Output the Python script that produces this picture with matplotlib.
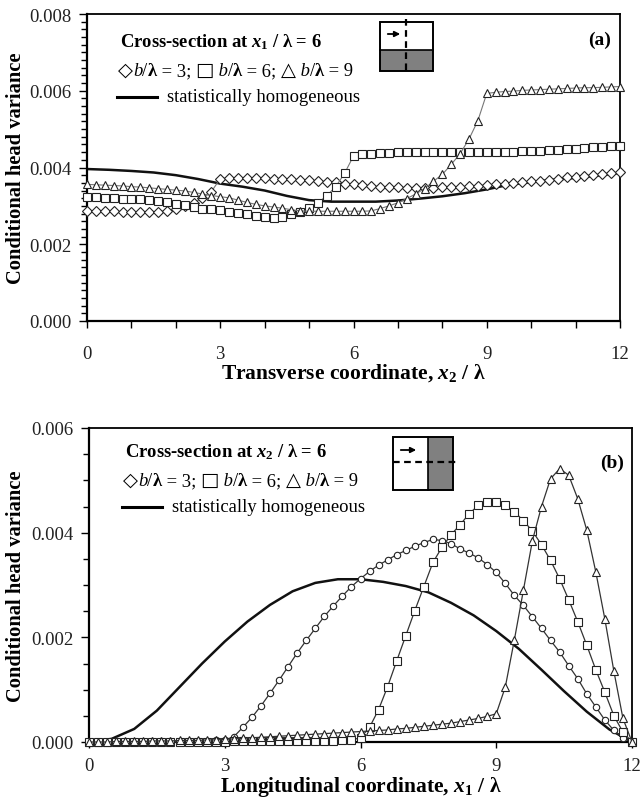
import numpy as np
import matplotlib
matplotlib.use("Agg")
import matplotlib.pyplot as plt
from matplotlib.ticker import MultipleLocator, FormatStrFormatter
from matplotlib.patches import Rectangle
from matplotlib.lines import Line2D

plt.rcParams['font.family'] = ['Liberation Serif', 'DejaVu Sans']
plt.rcParams['mathtext.fontset'] = 'custom'
plt.rcParams['mathtext.it'] = 'Liberation Serif:italic:bold'
plt.rcParams['mathtext.rm'] = 'Liberation Serif:bold'
plt.rcParams['mathtext.bf'] = 'Liberation Serif:bold'

# ---- data (head variance in units of 1e-3) ----
x_grid = np.round(np.linspace(0, 12, 61), 1)      # marker positions, step 0.2
x_line = np.round(np.linspace(0, 12, 25), 1)      # homogeneous curve, step 0.5

# (a) cross-section at x1/lambda = 6
a_b3 = [2.87, 2.87, 2.86, 2.86, 2.85, 2.84, 2.84, 2.84, 2.85, 2.87,
        2.91, 2.99, 3.08, 3.20, 3.37, 3.71, 3.73, 3.73, 3.73, 3.72,
        3.72, 3.71, 3.70, 3.69, 3.68, 3.67, 3.65, 3.63, 3.61, 3.58,
        3.56, 3.54, 3.52, 3.50, 3.49, 3.48, 3.47, 3.46, 3.46, 3.47,
        3.48, 3.49, 3.50, 3.51, 3.53, 3.54, 3.56, 3.58, 3.60, 3.62,
        3.64, 3.66, 3.68, 3.71, 3.74, 3.76, 3.79, 3.81, 3.84, 3.86,
        3.88]
a_b6 = [3.22, 3.22, 3.21, 3.20, 3.19, 3.18, 3.17, 3.15, 3.13, 3.10,
        3.06, 3.01, 2.96, 2.93, 2.91, 2.88, 2.85, 2.81, 2.78, 2.74,
        2.71, 2.69, 2.72, 2.78, 2.85, 2.95, 3.08, 3.27, 3.50, 3.85,
        4.30, 4.34, 4.36, 4.37, 4.39, 4.40, 4.41, 4.41, 4.41, 4.41,
        4.41, 4.41, 4.41, 4.41, 4.41, 4.41, 4.41, 4.41, 4.41, 4.42,
        4.43, 4.44, 4.45, 4.46, 4.48, 4.49, 4.51, 4.53, 4.54, 4.56,
        4.57]
a_b9 = [3.56, 3.55, 3.54, 3.53, 3.52, 3.50, 3.49, 3.47, 3.45, 3.43,
        3.41, 3.39, 3.35, 3.31, 3.27, 3.24, 3.21, 3.15, 3.09, 3.04,
        3.00, 2.97, 2.94, 2.90, 2.87, 2.86, 2.86, 2.86, 2.86, 2.86,
        2.86, 2.86, 2.87, 2.93, 3.00, 3.08, 3.19, 3.31, 3.45, 3.64,
        3.82, 4.08, 4.36, 4.74, 5.22, 5.93, 5.96, 5.98, 5.99, 6.01,
        6.02, 6.03, 6.04, 6.05, 6.06, 6.07, 6.08, 6.08, 6.09, 6.10,
        6.11]
a_hom = [3.96, 3.94, 3.91, 3.87, 3.80, 3.70, 3.58, 3.50, 3.40, 3.26,
         3.15, 3.11, 3.11, 3.11, 3.14, 3.19, 3.25, 3.33, 3.43, 3.55,
         3.62, 3.68, 3.73, 3.79, 3.86]

# (b) cross-section at x2/lambda = 6
b_b3 = [0.00, 0.00, 0.00, 0.00, 0.00, 0.00, 0.00, 0.01, 0.01, 0.01,
        0.01, 0.01, 0.02, 0.02, 0.03, 0.04, 0.10, 0.28, 0.47, 0.69,
        0.93, 1.18, 1.44, 1.70, 1.94, 2.17, 2.40, 2.60, 2.79, 2.97,
        3.12, 3.26, 3.38, 3.48, 3.58, 3.66, 3.74, 3.81, 3.87, 3.85,
        3.79, 3.69, 3.61, 3.52, 3.39, 3.24, 3.03, 2.80, 2.61, 2.39,
        2.17, 1.94, 1.72, 1.46, 1.21, 0.92, 0.67, 0.42, 0.22, 0.08,
        0.00]
b_b6 = [0.00, 0.00, 0.00, 0.00, 0.00, 0.00, 0.00, 0.00, 0.00, 0.00,
        0.00, 0.00, 0.00, 0.00, 0.00, 0.00, 0.01, 0.01, 0.01, 0.01,
        0.01, 0.01, 0.01, 0.01, 0.01, 0.02, 0.02, 0.02, 0.03, 0.04,
        0.08, 0.28, 0.62, 1.06, 1.55, 2.03, 2.51, 2.97, 3.43, 3.72,
        3.96, 4.15, 4.36, 4.52, 4.59, 4.59, 4.52, 4.40, 4.23, 4.03,
        3.77, 3.47, 3.12, 2.72, 2.30, 1.85, 1.38, 0.95, 0.50, 0.19,
        0.00]
b_b9 = [0.00, 0.00, 0.00, 0.01, 0.01, 0.01, 0.01, 0.02, 0.02, 0.02,
        0.03, 0.03, 0.03, 0.04, 0.04, 0.05, 0.06, 0.07, 0.08, 0.09,
        0.10, 0.11, 0.12, 0.13, 0.14, 0.15, 0.16, 0.17, 0.18, 0.19,
        0.20, 0.21, 0.22, 0.23, 0.25, 0.26, 0.28, 0.30, 0.32, 0.34,
        0.36, 0.39, 0.42, 0.45, 0.49, 0.54, 1.05, 1.95, 2.90, 3.85,
        4.50, 5.03, 5.22, 5.10, 4.65, 4.05, 3.25, 2.35, 1.35, 0.45,
        0.00]
b_hom = [0.00, 0.06, 0.25, 0.60, 1.05, 1.50, 1.92, 2.30, 2.62, 2.88,
         3.04, 3.11, 3.11, 3.06, 2.98, 2.86, 2.66, 2.42, 2.12, 1.78,
         1.38, 0.97, 0.58, 0.24, 0.00]

W, H = 641, 804
fig = plt.figure(figsize=(W / 100, H / 100), dpi=100)

LEG_FS = 13.4


def fx(x):
    return x / W


def fy(y):
    return 1 - y / H


def axes_px(x0, y0, x1, y1):
    return fig.add_axes([fx(x0), fy(y1), (x1 - x0) / W, (y1 - y0) / H])


def chain_text(ax, x, y, pieces, size):
    # pieces: list of (string, dict of text kwargs), drawn one after another
    s, kw = pieces[0]
    opts = dict(fontsize=size)
    opts.update(kw)
    t = ax.text(x, y, s, transform=fig.transFigure, va='bottom', ha='left', **opts)
    for s, kw in pieces[1:]:
        opts = dict(fontsize=size)
        opts.update(kw)
        t = ax.annotate(s, xy=(1, 0), xycoords=t, va='bottom', ha='left', **opts)
    return t


def legend_block(ax, x0, y0, title):
    ax.text(fx(x0), fy(y0), title, transform=fig.transFigure,
            fontsize=LEG_FS, fontweight='bold', va='center', ha='left')
    sym = dict(family=['DejaVu Sans'], fontsize=14)
    it = dict(style='italic')
    bf = dict(fontweight='bold')
    rg = {}
    pieces = [('\u25c7', sym), ('b', it), ('/', rg), ('\u03bb', bf), (' = 3; ', rg),
              ('\u25a1', sym), (' b', it), ('/', rg), ('\u03bb', bf), (' = 6; ', rg),
              ('\u25b3', sym), (' b', it), ('/', rg), ('\u03bb', bf), (' = 9', rg)]
    chain_text(ax, fx(x0 - 2), fy(y0 + 38), pieces, LEG_FS)
    fig.add_artist(Line2D([fx(x0 - 3), fx(x0 + 37)], [fy(y0 + 56), fy(y0 + 56)],
                          color='k', lw=2.2, transform=fig.transFigure))
    ax.text(fx(x0 + 47), fy(y0 + 55), 'statistically homogeneous',
            transform=fig.transFigure, fontsize=LEG_FS, va='center', ha='left')


def style_axes(ax):
    for side in ['left', 'bottom']:
        ax.spines[side].set_linewidth(1.6)
    for side in ['top', 'right']:
        ax.spines[side].set_linewidth(1.3)
    ax.yaxis.set_major_formatter(FormatStrFormatter('%.3f'))
    ax.tick_params(axis='both', which='both', direction='out', labelsize=13.5,
                   labelcolor='#222222', width=1.0, top=False, right=False)


def ylabel_at(ax, x_px, ax_left, ax_width):
    # x_px is the right-hand edge of the rotated label, in figure pixels
    ax.set_ylabel('Conditional head variance', fontsize=14.8, fontweight='bold')
    ax.yaxis.set_label_coords((x_px - ax_left) / ax_width, 0.5)


series_style = [('D', 5.2), ('s', 6.0), ('^', 5.6)]

# ---------------- panel (a) ----------------
ax1 = axes_px(87, 15, 620, 322)
for vals, (mk, ms) in zip([a_b3, a_b6, a_b9], series_style):
    ax1.plot(x_grid, np.array(vals) * 1e-3, color='#777777', lw=0.8,
             marker=mk, ms=ms, mfc='white', mec='#222222', mew=0.8,
             clip_on=False, zorder=3)
ax1.plot(x_line, np.array(a_hom) * 1e-3, color='#111111', lw=1.8, zorder=2)
ax1.set_xlim(0, 12)
ax1.set_ylim(0, 0.008)
ax1.xaxis.set_major_locator(MultipleLocator(3))
ax1.xaxis.set_minor_locator(MultipleLocator(1))
ax1.yaxis.set_major_locator(MultipleLocator(0.002))
ax1.yaxis.set_minor_locator(MultipleLocator(0.0002))
style_axes(ax1)
ax1.tick_params(axis='x', which='both', length=5, pad=12)
ax1.tick_params(axis='y', which='major', length=6, pad=5)
ax1.tick_params(axis='y', which='minor', length=4)
ax1.set_xlabel('Transverse coordinate, $x_2$ / \u03bb',
               fontsize=15.5, fontweight='bold', labelpad=0)
ylabel_at(ax1, 26, 87, 533)
ax1.text(fx(600), fy(40), '(a)', transform=fig.transFigure, fontsize=14,
         fontweight='bold', ha='center', va='center')
legend_block(ax1, 120, 42, 'Cross-section at $x_1$ / \u03bb = 6')

# inset sketch (a): lower half shaded, vertical dashed section
fig.add_artist(Rectangle((fx(380), fy(72)), 53 / W, 21 / H, facecolor='#808080',
                         edgecolor='none', transform=fig.transFigure))
fig.add_artist(Rectangle((fx(380), fy(72)), 53 / W, 49 / H, facecolor='none',
                         edgecolor='k', lw=1.4, transform=fig.transFigure))
fig.add_artist(Line2D([fx(380), fx(433)], [fy(51), fy(51)], color='k', lw=1.2,
                      transform=fig.transFigure))
fig.add_artist(Line2D([fx(406), fx(406)], [fy(20), fy(75)], color='k', lw=1.6,
                      ls=(0, (3, 2)), transform=fig.transFigure))
ax1.annotate('', xy=(fx(403), fy(35)), xytext=(fx(385), fy(35)),
             xycoords='figure fraction', textcoords='figure fraction',
             arrowprops=dict(arrowstyle='-|>', lw=1.3, color='k', mutation_scale=8))

# ---------------- panel (b) ----------------
ax2 = axes_px(89, 429, 632, 743)
for vals, (mk, ms) in zip([b_b3, b_b6, b_b9], [('o', 4.6), ('s', 5.6), ('^', 5.2)]):
    ax2.plot(x_grid, np.array(vals) * 1e-3, color='#333333', lw=0.9,
             marker=mk, ms=ms, mfc='white', mec='#222222', mew=0.8,
             clip_on=False, zorder=3)
ax2.plot(x_line, np.array(b_hom) * 1e-3, color='#111111', lw=1.8, zorder=2)
ax2.set_xlim(0, 12)
ax2.set_ylim(0, 0.006)
ax2.xaxis.set_major_locator(MultipleLocator(3))
ax2.yaxis.set_major_locator(MultipleLocator(0.002))
ax2.yaxis.set_minor_locator(MultipleLocator(0.0005))
style_axes(ax2)
ax2.tick_params(axis='x', which='both', length=4, pad=7)
ax2.tick_params(axis='y', which='major', length=6, pad=5)
ax2.tick_params(axis='y', which='minor', length=4)
ax2.set_xlabel('Longitudinal coordinate, $x_1$ / \u03bb',
               fontsize=15.5, fontweight='bold', labelpad=0)
ylabel_at(ax2, 26, 89, 543)
ax2.text(fx(612), fy(463), '(b)', transform=fig.transFigure, fontsize=14,
         fontweight='bold', ha='center', va='center')
legend_block(ax2, 125, 452, 'Cross-section at $x_2$ / \u03bb = 6')

# inset sketch (b): right half shaded, horizontal dashed section
fig.add_artist(Rectangle((fx(428), fy(491)), 25 / W, 53 / H, facecolor='#808080',
                         edgecolor='none', transform=fig.transFigure))
fig.add_artist(Rectangle((fx(393), fy(491)), 60 / W, 53 / H, facecolor='none',
                         edgecolor='k', lw=1.4, transform=fig.transFigure))
fig.add_artist(Line2D([fx(428), fx(428)], [fy(438), fy(491)], color='k', lw=1.2,
                      transform=fig.transFigure))
fig.add_artist(Line2D([fx(393), fx(458)], [fy(463), fy(463)], color='k', lw=1.6,
                      ls=(0, (3, 2)), transform=fig.transFigure))
ax2.annotate('', xy=(fx(419), fy(451)), xytext=(fx(398), fy(451)),
             xycoords='figure fraction', textcoords='figure fraction',
             arrowprops=dict(arrowstyle='-|>', lw=1.3, color='k', mutation_scale=8))

fig.savefig('out.png', dpi=100)
